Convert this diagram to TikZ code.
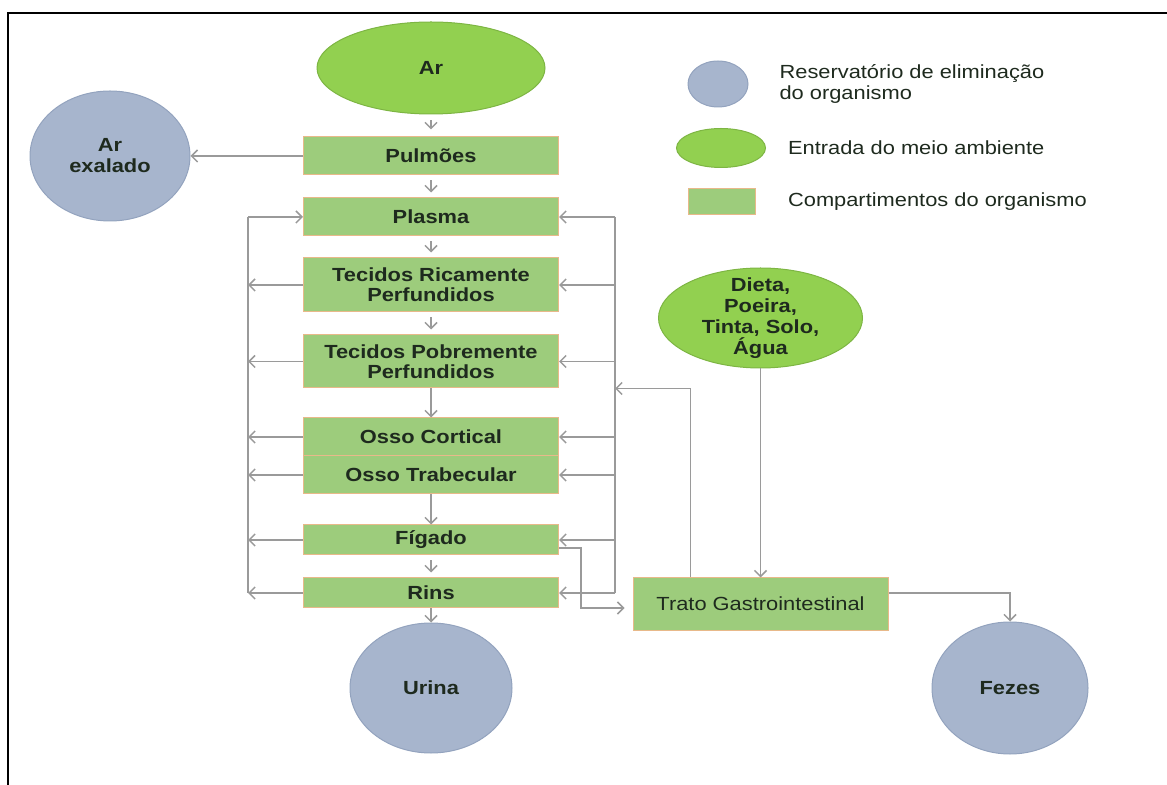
\documentclass[tikz,border=0pt]{standalone}
\usepackage{fontspec}
\setmainfont[FakeStretch=1.15]{Liberation Sans}
\usetikzlibrary{shapes.geometric,arrows.meta,positioning}
\definecolor{leafgreen}{HTML}{92D050}
\definecolor{leafedge}{HTML}{7DB543}
\definecolor{boxgreen}{HTML}{9DCC7C}
\definecolor{boxedge}{HTML}{E8B98A}
\definecolor{slate}{HTML}{A7B5CD}
\definecolor{slateedge}{HTML}{93A3BE}
\definecolor{linegray}{HTML}{9A9A9A}
\definecolor{ink}{HTML}{1E2A1E}
\begin{document}
\begin{tikzpicture}[x=0.5pt,y=-0.5pt,
    every node/.style={font=\fontsize{9.5}{10.5}\selectfont, text=ink},
    tag/.style={font=\fontsize{9.5}{10.5}\selectfont\bfseries, align=center},
    comp/.style={rectangle, fill=boxgreen, draw=boxedge, line width=0.5pt, minimum width=127.5pt,
        inner sep=0pt, align=center, font=\fontsize{9.5}{10}\selectfont\bfseries},
    source/.style={ellipse, fill=leafgreen, draw=leafedge, line width=0.5pt, inner sep=0pt},
    sink/.style={ellipse, fill=slate, draw=slateedge, line width=0.5pt, inner sep=0pt},
    wire/.style={draw=linegray, line width=0.75pt},
    flow/.style={wire, -{Straight Barb[length=3pt,width=6pt]}},
    gap/.style={shorten <=2.5pt, shorten >=2.5pt}]
    \useasboundingbox (0,0) rectangle (1167,785);
    \draw[line width=1pt] (8,785) -- (8,13) -- (1167,13);

    % entradas
    \node[source, minimum width=114pt, minimum height=46pt, label={[tag]center:Ar}] (ar) at (431,68) {};
    \node[source, minimum width=102pt, minimum height=50pt,
        label={[tag]center:{Dieta,\\Poeira,\\Tinta, Solo,\\Água}}] (diet) at (760.5,318) {};

    % compartimentos
    \node[comp, minimum height=19pt] (pulm) at (431,156) {Pulmões};
    \node[comp, minimum height=19pt] (plasma) at (431,217) {Plasma};
    \node[comp, minimum height=27pt] (rich) at (431,285) {Tecidos Ricamente\\Perfundidos};
    \node[comp, minimum height=26.5pt] (poor) at (431,361.5) {Tecidos Pobremente\\Perfundidos};
    \node[comp, minimum height=19pt] (cort) at (431,437) {Osso Cortical};
    \node[comp, minimum height=19pt] (trab) at (431,475) {Osso Trabecular};
    \node[comp, minimum height=15pt] (liver) at (431,540) {Fígado};
    \node[comp, minimum height=15pt] (kidney) at (431,593) {Rins};
    \node[comp, minimum height=26pt, font=\fontsize{9.5}{10}\selectfont] (gut) at (760.5,604) {Trato Gastrointestinal};

    % eliminacao
    \node[sink, minimum width=80pt, minimum height=65pt, label={[tag]center:Ar\\exalado}] (exhaled) at (110,156) {};
    \node[sink, minimum width=81pt, minimum height=65pt, label={[tag]center:Urina}] (urine) at (431,688) {};
    \node[sink, minimum width=78pt, minimum height=66pt, label={[tag]center:Fezes}] (feces) at (1010,688) {};

    % legenda
    \node[sink, minimum width=30pt, minimum height=23pt] (keysink) at (718,84) {};
    \node[source, minimum width=44.5pt, minimum height=19.5pt] (keysource) at (721,148) {};
    \node[comp, minimum width=33.5pt, minimum height=13pt] (keycomp) at (722,202) {};
    \node[right=12pt of keysink, align=left] (keysinktext) {Reservatório de eliminação\\do organismo};
    \node[right=7.5pt of keysource] (keysourcetext) {Entrada do meio ambiente};
    \node[right=12.5pt of keycomp] (keycomptext) {Compartimentos do organismo};

    % fluxo principal
    \draw[flow, shorten <=3pt, shorten >=3.5pt] (ar.south) -- (pulm.north);
    \draw[flow, gap] (pulm) -- (plasma);
    \draw[flow, gap] (plasma) -- (rich);
    \draw[flow, gap] (rich) -- (poor);
    \draw[flow] (poor) -- (cort);
    \draw[flow] (trab) -- (liver);
    \draw[flow, gap] (liver) -- (kidney);
    \draw[flow] (kidney) -- (urine);
    \draw[flow] (pulm) -- (exhaled);

    % barras laterais
    \coordinate (lbus) at (248,0);
    \coordinate (rbus) at (615,0);
    \draw[wire] (lbus |- plasma.west) -- (lbus |- kidney.west);
    \draw[flow] (lbus |- plasma.west) -- (plasma.west);
    \foreach \c in {rich,poor,cort,trab,liver,kidney}
        \draw[flow] (\c.west) -- (lbus |- \c.west);
    \draw[wire] (rbus |- plasma.east) -- (rbus |- kidney.east);
    \foreach \c in {plasma,rich,poor,cort,trab,liver,kidney}
        \draw[flow] (rbus |- \c.east) -- (\c.east);

    % trato gastrointestinal
    \draw[flow, shorten >=4pt] ([yshift=-4pt]liver.east) -- ++(22,0) |- ([yshift=-2pt]gut.west);
    \draw[flow] ([xshift=-35pt]gut.north) |- (rbus |- poor.south);
    \draw[flow] (diet) -- (gut);
    \draw[flow] ([yshift=5.5pt]gut.east) -| (feces.north);
\end{tikzpicture}
\end{document}
